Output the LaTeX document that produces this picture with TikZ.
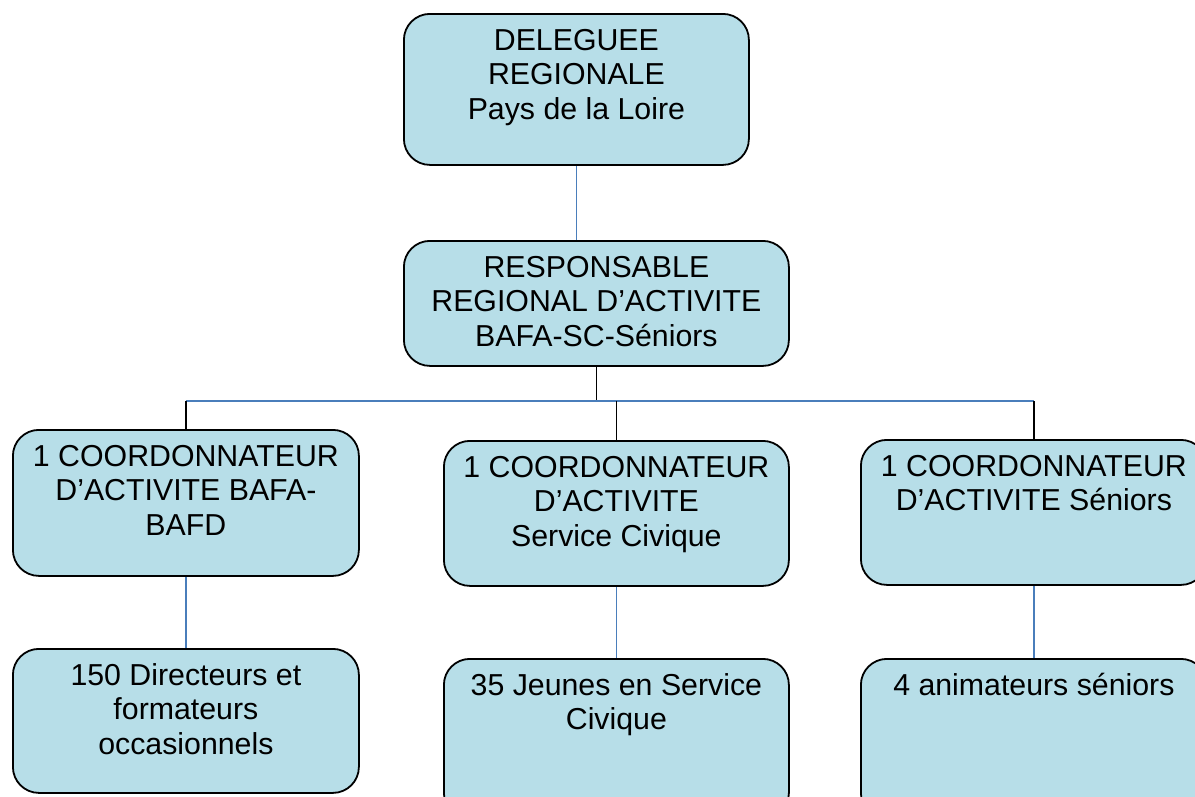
\documentclass[tikz,border=0pt]{standalone}
\usepackage{fontspec}
\setmainfont{Liberation Sans}
\definecolor{boxfill}{HTML}{B7DEE8}
\definecolor{linkblue}{HTML}{4A7EBB}
\tikzset{
  {box/.style}={rectangle, rounded corners=26pt, draw=black,
                line width=1.8pt, fill=boxfill, anchor=north west,
                inner sep=0},
  {boxtext/.style}={anchor=north, inner sep=0, align=center,
                font=\fontsize{30.3}{34.5}\selectfont},
  {blue link/.style}={draw=linkblue, line width=1.6pt},
  {black link/.style}={draw=black, line width=1.6pt},
}

\begin{document}
\begin{tikzpicture}[x=1pt,y=-1pt]
    \fill[white] (0,0) rectangle (1195,796);
    \useasboundingbox (0,0) rectangle (1195,796);
    % boxes
    \node[box,minimum width=345pt,minimum height=151pt] (del) at (403,13) {};
    \node[box,minimum width=385pt,minimum height=125pt] (resp) at (403,240) {};
    \node[box,minimum width=346pt,minimum height=146pt] (cbafa) at (12,429) {};
    \node[box,minimum width=345pt,minimum height=145pt] (csc) at (443,440) {};
    \node[box,minimum width=346pt,minimum height=145pt] (csen) at (860,439) {};
    \node[box,minimum width=346pt,minimum height=144pt] (bbafa) at (12,648) {};
    \node[box,minimum width=345pt,minimum height=160pt] (bsc) at (443,658) {};
    \node[box,minimum width=346pt,minimum height=160pt] (bsen) at (860,658) {};
    % texts
    \node[boxtext] (del-txt) at ([yshift=-12.85pt]del.north)
      {\strut DELEGUEE\\ REGIONALE\\ Pays de la Loire};
    \node[boxtext] (resp-txt) at ([yshift=-12.85pt]resp.north)
      {\strut RESPONSABLE\\ REGIONAL D’ACTIVITE\\ BAFA-SC-Séniors};
    \node[boxtext] (cbafa-txt) at ([yshift=-12.85pt]cbafa.north)
      {\strut 1 COORDONNATEUR\\ D’ACTIVITE BAFA-\\ BAFD};
    \node[boxtext] (csc-txt) at ([yshift=-12.85pt]csc.north)
      {\strut 1 COORDONNATEUR\\ D’ACTIVITE\\ Service Civique};
    \node[boxtext] (csen-txt) at ([yshift=-12.85pt]csen.north)
      {\strut 1 COORDONNATEUR\\ D’ACTIVITE Séniors};
    \node[boxtext] (bbafa-txt) at ([yshift=-12.85pt]bbafa.north)
      {\strut 150 Directeurs et\\ formateurs\\ occasionnels};
    \node[boxtext] (bsc-txt) at ([yshift=-12.85pt]bsc.north)
      {\strut 35 Jeunes en Service\\ Civique};
    \node[boxtext] (bsen-txt) at ([yshift=-12.85pt]bsen.north)
      {\strut 4 animateurs séniors};
    % links
    \coordinate (bar) at (0,401);
    \draw[blue link] (del.south) -- (del.south |- resp.north);
    \draw[black link] (resp.south) -- (resp.south |- bar);
    \draw[blue link] (cbafa.north |- bar) -- (csen.north |- bar);
    \foreach \c in {cbafa,csc,csen}
      \draw[black link] (\c.north |- bar) -- (\c.north);
    \foreach \c/\b in {cbafa/bbafa,csc/bsc,csen/bsen}
      \draw[blue link] (\c.south) -- (\b.north);
\end{tikzpicture}
\end{document}
